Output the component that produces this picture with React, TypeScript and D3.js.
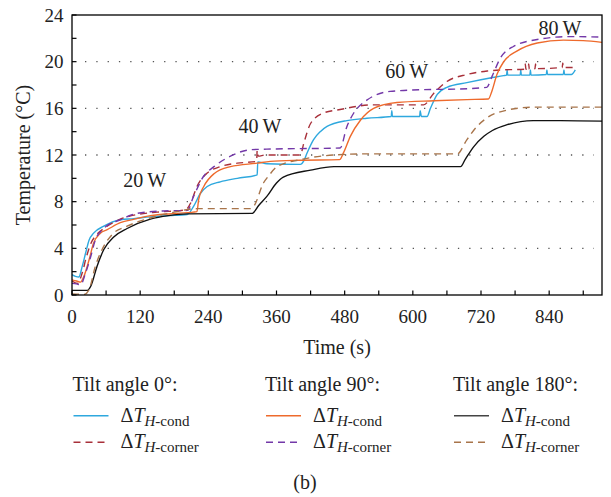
import React from "react";
import * as d3 from "d3";

type Pt = [number, number];

// Time (s) / temperature (°C) pairs
const blueCond0: Pt[] = [
  [0, 1.74], [6, 1.6], [12, 1.54], [18, 2.45], [24, 3.6], [30, 4.7], [38, 5.3], [56, 5.9], [85, 6.45],
  [109, 6.55], [138, 6.7], [170, 6.8], [203, 6.9], [214, 7.6], [226, 8.7], [238, 9.3], [261, 9.7],
  [291, 10.0], [326, 10.3], [327, 11.4], [343, 11.25], [402, 11.2], [408, 11.5], [414, 12.2], [425, 13.3],
  [437, 14.0], [449, 14.45], [461, 14.7], [484, 14.95], [519, 15.15], [562, 15.3], [563, 15.8], [564, 15.3],
  [612, 15.3], [613, 15.8], [615, 15.3], [625, 15.3], [631, 16.0], [643, 17.2], [660, 17.8], [695, 18.2],
  [736, 18.6], [760, 18.8], [765, 18.85], [766, 19.3], [767, 18.85], [789, 18.85], [790, 19.3], [791, 18.85],
  [806, 18.85], [807, 19.3], [808, 18.85], [835, 18.9], [836, 19.3], [837, 18.9], [865, 18.9], [866, 19.3],
  [867, 18.9], [879, 18.9], [886, 19.3],
];
const redCorner0: Pt[] = [
  [0, 1.2], [10, 1.0], [18, 1.9], [25, 3.2], [33, 4.4], [42, 5.1], [56, 5.7], [85, 6.5], [115, 6.9],
  [150, 7.1], [200, 7.3], [209, 7.9], [220, 9.3], [238, 10.45], [261, 11.0], [291, 11.3], [325, 11.45],
  [326, 12.4], [328, 11.9], [340, 12.0], [402, 12.0], [408, 13.0], [420, 14.7], [443, 15.6], [472, 15.9],
  [531, 16.3], [619, 16.3], [637, 17.3], [660, 18.3], [695, 18.9], [731, 19.2], [760, 19.3], [797, 19.35],
  [798, 19.8], [799, 19.35], [803, 19.35], [804, 19.8], [805, 19.35], [815, 19.4], [816, 19.8], [817, 19.4],
  [863, 19.5], [864, 19.9], [865, 19.5], [883, 19.5], [886, 19.7],
];
const orangeCond90: Pt[] = [
  [0, 1.3], [8, 1.2], [15, 1.1], [21, 1.6], [30, 3.0], [38, 4.45], [50, 5.3], [62, 5.6], [85, 6.2],
  [110, 6.5], [138, 6.8], [185, 7.0], [220, 7.15], [223, 8.2], [232, 9.3], [250, 10.4], [279, 11.0],
  [326, 11.3], [349, 11.45], [400, 11.55], [471, 11.6], [478, 12.2], [490, 13.6], [508, 15.0], [531, 16.0],
  [572, 16.5], [637, 16.65], [695, 16.75], [733, 16.8], [739, 17.45], [748, 18.9], [760, 20.0], [783, 20.9],
  [819, 21.6], [865, 21.85], [900, 21.8], [933, 21.65],
];
const purpleCorner90: Pt[] = [
  [0, 1.0], [8, 0.95], [15, 0.88], [24, 1.9], [33, 3.3], [41, 4.7], [56, 5.7], [85, 6.45], [115, 7.0],
  [160, 7.2], [203, 7.25], [214, 8.45], [232, 10.2], [250, 11.0], [279, 11.9], [314, 12.45], [343, 12.5],
  [472, 12.6], [484, 14.45], [496, 15.6], [519, 16.7], [560, 17.45], [619, 17.6], [678, 17.65], [730, 17.8],
  [740, 18.8], [754, 20.3], [777, 21.3], [819, 21.9], [877, 22.15], [933, 22.1],
];
const blackCond180: Pt[] = [
  [0, 0.4], [27, 0.4], [33, 0.75], [44, 2.45], [56, 3.9], [74, 5.0], [97, 5.7], [138, 6.5], [170, 6.8],
  [203, 6.95], [317, 7.0], [329, 7.7], [343, 8.45], [360, 9.6], [372, 10.1], [420, 10.7], [461, 11.0],
  [684, 11.0], [692, 11.6], [707, 12.7], [725, 13.6], [740, 14.1], [766, 14.6], [812, 14.95], [860, 14.95],
  [933, 14.9],
];
const brownCorner180: Pt[] = [
  [0, 0.1], [21, 0.05], [30, 0.45], [41, 2.45], [53, 3.9], [71, 5.2], [97, 5.9], [138, 6.6], [180, 7.1],
  [220, 7.4], [314, 7.4], [320, 7.6], [337, 9.6], [346, 10.2], [361, 11.0], [402, 11.6], [461, 12.0],
  [520, 12.1], [678, 12.1], [695, 13.3], [713, 14.45], [731, 15.2], [766, 15.85], [812, 16.1], [933, 16.1],
];

const xTicks = [0, 120, 240, 360, 480, 600, 720, 840];
const xMinorTicks = [60, 180, 300, 420, 540, 660, 780, 900];
const yTicks = [0, 4, 8, 12, 16, 20, 24];
const yMinorTicks = [2, 6, 10, 14, 18, 22];
const gridValues = [4, 8, 12, 16, 20];
const powerLabels: { text: string; t: number; v: number }[] = [
  { text: "20\u2009W", t: 128, v: 9.3 },
  { text: "40\u2009W", t: 331, v: 13.9 },
  { text: "60\u2009W", t: 589, v: 18.6 },
  { text: "80\u2009W", t: 859, v: 22.3 },
];

const series = [
  { data: blueCond0, color: "#2ea8de", dash: null as string | null },
  { data: redCorner0, color: "#a8303a", dash: "7,5" },
  { data: orangeCond90, color: "#ee6a2c", dash: null },
  { data: purpleCorner90, color: "#7338a8", dash: "7,5" },
  { data: blackCond180, color: "#111111", dash: null },
  { data: brownCorner180, color: "#a8744a", dash: "7,5" },
];

const legendGroups = [
  { title: "Tilt angle 0°:", x: 72.5, items: [
    { color: "#2ea8de", dash: null as string | null, sub: "-cond" },
    { color: "#a8303a", dash: "7,5", sub: "-corner" },
  ] },
  { title: "Tilt angle 90°:", x: 265, items: [
    { color: "#ee6a2c", dash: null, sub: "-cond" },
    { color: "#7338a8", dash: "7,5", sub: "-corner" },
  ] },
  { title: "Tilt angle 180°:", x: 453, items: [
    { color: "#444444", dash: null, sub: "-cond" },
    { color: "#a8744a", dash: "7,5", sub: "-corner" },
  ] },
];

const FONT = "'Liberation Serif', 'Times New Roman', serif";

export default function App() {
  const W = 611, H = 497;
  const L = 72, R = 602, T = 15, B = 295;
  const x = d3.scaleLinear().domain([0, 933]).range([L, R]);
  const y = d3.scaleLinear().domain([0, 24]).range([B, T]);
  const line = d3.line<Pt>().x(d => x(d[0])).y(d => y(d[1])).curve(d3.curveMonotoneX);
  const tickLen = 4.5;

  return (
    <svg width={W} height={H} style={{ position: "absolute", left: 0, top: 0, background: "#fff" }}
      fontFamily={FONT}>
      <rect x={0} y={0} width={W} height={H} fill="#fff" />
      {/* grid */}
      {gridValues.map(v => (
        <line key={"g" + v} x1={L + 13} x2={R - 8} y1={y(v)} y2={y(v)} stroke="#555"
          strokeWidth={1.3} strokeDasharray="1.3,10" />
      ))}
      {/* series */}
      <g clipPath="url(#clip)">
        {series.map((s, i) => (
          <path key={i} d={line(s.data) || ""} fill="none" stroke={s.color} strokeWidth={1.4}
            strokeDasharray={s.dash || undefined} strokeLinejoin="round" />
        ))}
      </g>
      <defs>
        <clipPath id="clip"><rect x={L} y={T} width={R - L} height={B - T} /></clipPath>
      </defs>
      {/* frame */}
      <rect x={L} y={T} width={R - L} height={B - T} fill="none" stroke="#000" strokeWidth={1.3} />
      {/* ticks */}
      {[...xTicks, ...xMinorTicks].map(t => (
        <line key={"xt" + t} x1={x(t)} x2={x(t)} y1={B} y2={B - tickLen} stroke="#000" strokeWidth={1.2} />
      ))}
      {[...yTicks, ...yMinorTicks].map(v => (
        <line key={"yt" + v} x1={L} x2={L + tickLen} y1={y(v)} y2={y(v)} stroke="#000" strokeWidth={1.2} />
      ))}
      {xTicks.map(t => (
        <text key={"xl" + t} x={x(t)} y={322.5} fontSize={19} textAnchor="middle" fill="#222">{t}</text>
      ))}
      {yTicks.map(v => (
        <text key={"yl" + v} x={63.5} y={y(v) + 6.5} fontSize={19} textAnchor="end" fill="#222">{v}</text>
      ))}
      <text x={337} y={354} fontSize={20} textAnchor="middle" fill="#222">Time (s)</text>
      <text transform={`translate(30,${(T + B) / 2}) rotate(-90)`} fontSize={20} textAnchor="middle"
        fill="#222">Temperature (°C)</text>
      {powerLabels.map(p => (
        <text key={p.text} x={x(p.t)} y={y(p.v)} fontSize={20} textAnchor="middle" fill="#222">{p.text}</text>
      ))}
      {/* legend */}
      {legendGroups.map(g => (
        <g key={g.title}>
          <text x={g.x} y={390.5} fontSize={20} fill="#222">{g.title}</text>
          {g.items.map((it, j) => {
            const ly = 415.7 + j * 26.6;
            const by = 421.7 + j * 26.6;
            return (
              <g key={j}>
                <line x1={g.x + 1} x2={g.x + 36} y1={ly} y2={ly} stroke={it.color} strokeWidth={1.4}
                  strokeDasharray={it.dash ? "7,5" : undefined} />
                <text x={g.x + 48} y={by} fontSize={20} fill="#222">
                  <tspan>Δ</tspan><tspan fontStyle="italic">T</tspan>
                  <tspan dy={4} fontSize={15} fontStyle="italic">H</tspan>
                  <tspan fontSize={15}>{it.sub}</tspan>
                </text>
              </g>
            );
          })}
        </g>
      ))}
      <text x={305} y={489} fontSize={20} textAnchor="middle" fill="#222">(b)</text>
    </svg>
  );
}
